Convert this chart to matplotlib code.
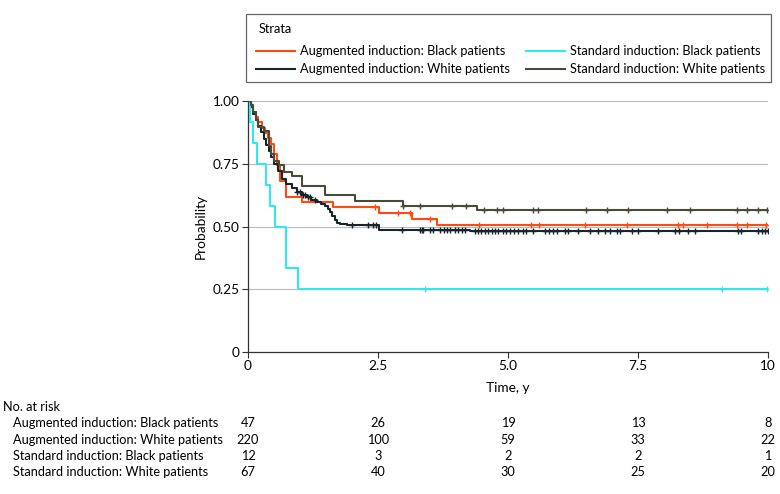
import matplotlib
matplotlib.use('Agg')
import matplotlib.pyplot as plt
import matplotlib.transforms as mtransforms
from matplotlib.lines import Line2D
from matplotlib.patches import Rectangle
import numpy as np

plt.rcParams['font.family'] = ['Lato', 'DejaVu Sans']

# strata, in legend order
strata = ['Augmented induction: Black patients', 'Augmented induction: White patients',
          'Standard induction: Black patients', 'Standard induction: White patients']
colors = ['#ff4a14', '#15252a', '#30e8f0', '#4a4a3b']

# step points (time in years, survival probability)
aug_black_t = [0, 0.05, 0.10, 0.15, 0.20, 0.27, 0.32, 0.38, 0.45, 0.50, 0.55, 0.62, 0.74, 1.03, 1.64, 2.51, 3.15, 3.64]
aug_black_s = [1, 0.979, 0.957, 0.936, 0.915, 0.894, 0.872, 0.851, 0.83, 0.787, 0.745, 0.683, 0.617, 0.597, 0.577, 0.553, 0.530, 0.504]
aug_black_cens = [2.44, 2.89, 3.12, 3.50, 4.45, 5.45, 5.60, 6.48, 7.29, 8.26, 8.36, 8.82, 9.41, 9.60, 9.97]

aug_white_t = [0, 0.05, 0.10, 0.15, 0.20, 0.25, 0.30, 0.35, 0.40, 0.45, 0.50, 0.58, 0.66, 0.74, 0.84, 0.94, 1.03, 1.13,
               1.22, 1.32, 1.40, 1.48, 1.53, 1.58, 1.62, 1.67, 1.72, 1.77, 1.90, 2.51, 4.27]
aug_white_s = [1, 0.975, 0.95, 0.925, 0.90, 0.875, 0.85, 0.825, 0.80, 0.775, 0.75, 0.72, 0.69, 0.669, 0.652, 0.636, 0.626, 0.616,
               0.606, 0.597, 0.590, 0.583, 0.570, 0.557, 0.540, 0.524, 0.515, 0.508, 0.504, 0.488, 0.481]
aug_white_cens = [0.95, 1.00, 1.05, 1.10, 1.15, 1.20, 1.28, 2.00, 2.30, 2.41, 2.47, 2.97, 3.31, 3.34, 3.37, 3.50, 3.55,
                  3.69, 3.76, 3.82, 3.88, 3.98, 4.04, 4.11, 4.17, 4.37, 4.43, 4.49, 4.56, 4.62, 4.69, 4.75, 4.81,
                  4.91, 4.97, 5.04, 5.12, 5.20, 5.29, 5.35, 5.49, 5.71, 5.78, 5.87, 5.94, 6.10, 6.16, 6.35, 6.58,
                  6.74, 6.87, 6.96, 7.09, 7.15, 7.38, 7.50, 7.89, 8.21, 8.29, 8.47, 8.60, 9.43, 9.49, 9.81, 9.88,
                  9.94, 10.0]

std_black_t = [0, 0.04, 0.10, 0.17, 0.35, 0.42, 0.51, 0.73, 0.97]
std_black_s = [1, 0.917, 0.833, 0.75, 0.667, 0.583, 0.5, 0.333, 0.25]
std_black_cens = [3.40, 9.12, 9.98]

std_white_t = [0, 0.05, 0.10, 0.15, 0.20, 0.30, 0.40, 0.45, 0.50, 0.60, 0.70, 0.85, 1.03, 1.48, 2.06, 2.99, 4.41]
std_white_s = [1, 0.985, 0.955, 0.925, 0.896, 0.881, 0.82, 0.79, 0.76, 0.746, 0.716, 0.70, 0.663, 0.627, 0.600, 0.583, 0.566]
std_white_cens = [2.99, 3.31, 3.92, 4.19, 4.54, 4.78, 4.91, 5.49, 5.58, 6.50, 6.90, 7.30, 8.05, 8.50, 9.40, 9.60, 9.80, 9.98]

curves = [(aug_black_t, aug_black_s, aug_black_cens),
          (aug_white_t, aug_white_s, aug_white_cens),
          (std_black_t, std_black_s, std_black_cens),
          (std_white_t, std_white_s, std_white_cens)]

# number at risk table
risk_times = [0, 2.5, 5.0, 7.5, 10]
at_risk = [[47, 26, 19, 13, 8],
           [220, 100, 59, 33, 22],
           [12, 3, 2, 2, 1],
           [67, 40, 30, 25, 20]]

x_ticks = [0, 2.5, 5.0, 7.5, 10]
x_ticklabels = ['0', '2.5', '5.0', '7.5', '10']
y_ticks = [0, 0.25, 0.5, 0.75, 1.0]
y_ticklabels = ['0', '0.25', '0.50', '0.75', '1.00']

FS = 9.2
W, H = 780, 494


def surv_at(times, surv, t):
    i = np.searchsorted(np.asarray(times), t, side='right') - 1
    return np.asarray(surv)[i]


def fx(px):
    return px / W


def fy(py):
    return 1 - py / H


fig = plt.figure(figsize=(7.8, 4.94), dpi=100)
ax = fig.add_axes([fx(248), fy(352), 520 / W, 251 / H])

for (t, s, cens), c, name in zip(curves, colors, strata):
    tt = list(t) + [10]
    ss = list(s) + [s[-1]]
    ax.step(tt, ss, where='post', color=c, lw=1.5, label=name, zorder=3)
    ct = np.asarray(cens)
    ax.plot(ct, surv_at(t, s, ct), ls='none', marker='+', ms=5, mew=1.0, color=c, zorder=4)

ax.set_xlim(0, 10)
ax.set_ylim(0, 1.0)
ax.set_xticks(x_ticks)
ax.set_xticklabels(x_ticklabels)
ax.set_yticks(y_ticks)
ax.set_yticklabels(y_ticklabels)
ax.tick_params(labelsize=FS + 0.6, length=4, width=0.8, color='#333333', pad=2)
for sp in ['top', 'right']:
    ax.spines[sp].set_visible(False)
for sp in ['left', 'bottom']:
    ax.spines[sp].set_color('#333333')
    ax.spines[sp].set_linewidth(0.9)
for yv in y_ticks[1:]:
    ax.axhline(yv, color='#bbbbbb', lw=0.8, zorder=1)
ax.set_ylabel('Probability', fontsize=FS + 0.6, labelpad=4)
ax.set_xlabel('Time, y', fontsize=FS + 0.6, labelpad=7)

# legend box drawn by hand so the columns sit where the reference has them
fig.patches.append(Rectangle((fx(246), fy(82)), 525 / W, 68 / H, transform=fig.transFigure,
                             fill=False, edgecolor='#666666', lw=0.9))
fig.text(fx(259), fy(29), 'Strata', fontsize=FS, va='center', ha='left')
leg_pos = [(256, 51), (256, 69), (526, 51), (526, 69)]
for (lx, ly), c, name in zip(leg_pos, colors, strata):
    fig.lines.append(Line2D([fx(lx), fx(lx + 39)], [fy(ly), fy(ly)], transform=fig.transFigure,
                            color=c, lw=1.5))
    fig.text(fx(lx + 44), fy(ly), name, fontsize=FS, va='center', ha='left')

# risk table
trans = mtransforms.blended_transform_factory(ax.transData, fig.transFigure)
fig.text(fx(3), fy(407), 'No. at risk', fontsize=FS, va='center', ha='left')
row_y = [423, 440, 456, 472]
for name, counts, ry in zip(strata, at_risk, row_y):
    fig.text(fx(13), fy(ry), name, fontsize=FS, va='center', ha='left')
    for tx, n in zip(risk_times, counts):
        fig.text(tx, fy(ry), str(n), fontsize=FS, va='center', ha='center', transform=trans)

fig.savefig('out.png', dpi=100)
